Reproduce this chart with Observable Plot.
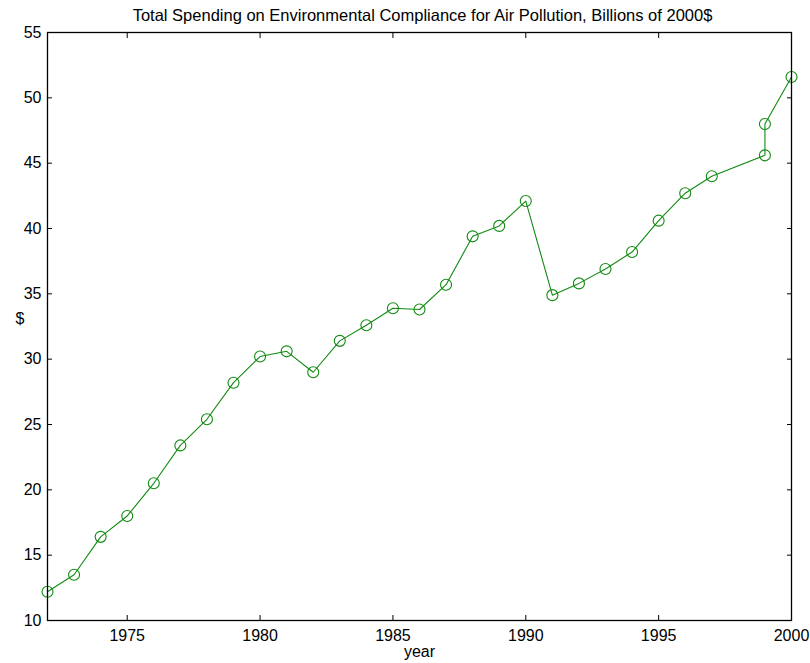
<!DOCTYPE html>
<html>
<head>
<meta charset="utf-8">
<script src="https://cdn.jsdelivr.net/npm/d3@7"></script>
<script src="https://cdn.jsdelivr.net/npm/@observablehq/plot@0.6"></script>
<style>
  html, body { margin: 0; padding: 0; background: #fff; }
  #chart svg { display: block; }
</style>
</head>
<body>
<div id="chart"></div>
<script>
const years = [1972, 1973, 1974, 1975, 1976, 1977, 1978, 1979, 1980, 1981, 1982, 1983, 1984, 1985, 1986, 1987, 1988, 1989, 1990, 1991, 1992, 1993, 1994, 1995, 1996, 1997, 1999, 1999, 2000];
const spending = [12.2, 13.5, 16.4, 18.0, 20.5, 23.4, 25.4, 28.2, 30.2, 30.6, 29.0, 31.4, 32.6, 33.9, 33.8, 35.7, 39.4, 40.2, 42.1, 34.9, 35.8, 36.9, 38.2, 40.6, 42.7, 44.0, 45.6, 48.0, 51.6];
const xTicks = [1975, 1980, 1985, 1990, 1995, 2000];
const yTicks = [10, 15, 20, 25, 30, 35, 40, 45, 50, 55];
const title = "Total Spending on Environmental Compliance for Air Pollution, Billions of 2000$";
const xLabel = "year";
const yLabel = "$";

const data = years.map((y, i) => ({year: y, value: spending[i]}));
const green = "#108a10";
const font = "Liberation Sans, Arial, Helvetica, sans-serif";

const chart = Plot.plot({
  width: 810,
  height: 663,
  marginLeft: 47,
  marginRight: 19,
  marginTop: 32,
  marginBottom: 43,
  style: {fontFamily: font, fontSize: "16px", color: "#000", background: "#fff"},
  x: {domain: [1972, 2000], axis: null},
  y: {domain: [10, 55], axis: null},
  marks: [
    Plot.axisX(xTicks, {anchor: "bottom", tickSize: -5, tickPadding: 14, tickFormat: d => String(d), fontSize: 16, stroke: "#000", label: null}),
    Plot.axisX(xTicks, {anchor: "top", tickSize: -5, tickFormat: () => "", stroke: "#000", label: null}),
    Plot.axisY(yTicks, {anchor: "left", tickSize: -5, tickPadding: 11, fontSize: 16, stroke: "#000", label: null}),
    Plot.axisY(yTicks, {anchor: "right", tickSize: -5, tickFormat: () => "", stroke: "#000", label: null}),
    Plot.line(data, {x: "year", y: "value", stroke: green, strokeWidth: 1.1}),
    Plot.dot(data, {x: "year", y: "value", r: 5.5, stroke: green, strokeWidth: 1.1, fill: "none"}),
    Plot.frame({stroke: "#000", strokeWidth: 1.3}),
    Plot.text([title], {frameAnchor: "top", dy: -23, dx: 3, fontSize: 16.5, fill: "#000"}),
    Plot.text([xLabel], {frameAnchor: "bottom", dy: 36, fontSize: 16, fill: "#000"}),
    Plot.text([yLabel], {frameAnchor: "left", dx: -32, dy: -8, fontSize: 16, fill: "#000"})
  ]
});
document.getElementById("chart").appendChild(chart);
</script>
</body>
</html>
